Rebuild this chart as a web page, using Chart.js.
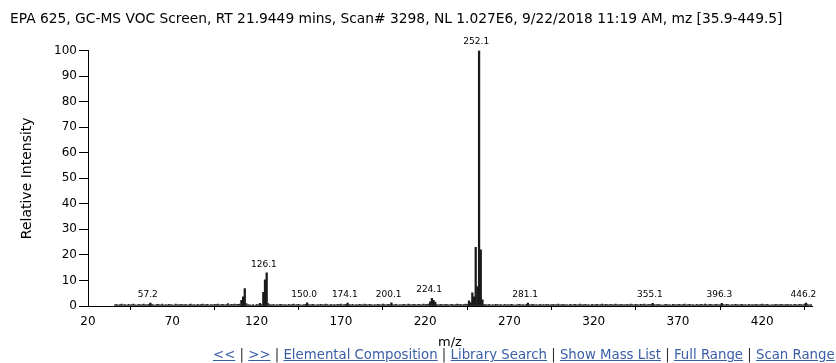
<!DOCTYPE html>
<html><head><meta charset="utf-8">
<script src="https://cdn.jsdelivr.net/npm/chart.js@4.4.1/dist/chart.umd.min.js"></script>
<style>
html,body{margin:0;padding:0;background:#fff;}
#wrap{position:relative;width:836px;height:363px;overflow:hidden;}
#links{position:absolute;left:213px;top:347px;font:13.3px "DejaVu Sans";color:#333;white-space:nowrap;line-height:16px;}
#links a{color:#3a5ea8;text-decoration:underline;}
</style></head><body>
<div id="wrap"><canvas id="c" width="836" height="363"></canvas>
<div id="links"><a>&lt;&lt;</a> | <a>&gt;&gt;</a> | <a>Elemental Composition</a> | <a>Library Search</a> | <a>Show Mass List</a> | <a>Full Range</a> | <a>Scan Range</a></div></div>
<script>
const chartTitle = 'EPA 625, GC-MS VOC Screen, RT 21.9449 mins, Scan# 3298, NL 1.027E6, 9/22/2018 11:19 AM, mz [35.9-449.5]';
const xTicks = [20, 70, 120, 170, 220, 270, 320, 370, 420];
// significant peaks (m/z, relative intensity %)
const peakMz = [57, 111, 112, 113, 122, 124, 125, 126, 150, 174, 200, 223, 224, 225, 226, 246, 247, 248, 249, 250, 251, 252, 253, 254, 281, 355, 396, 446];
const peakIntensity = [1.1, 2.2, 3.6, 6.8, 1.0, 5.4, 10.2, 13.0, 1.2, 1.1, 1.2, 1.6, 3.0, 2.2, 1.5, 2.0, 1.3, 5.2, 3.6, 23.0, 7.6, 100, 22.0, 2.4, 1.1, 1.0, 1.0, 1.1];
// baseline noise, one value per integer m/z starting at 36
const baselineStartMz = 36;
const baselineIntensity = [
0.5,0.7,0.4,0.6,0.8,0.5,0.6,0.4,0.7,0.5,0.6,0.8,0.5,0.4,0.7,0.6,0.5,0.8,0.6,0.5,
0.7,0.6,0.6,0.5,0.4,0.7,0.6,0.5,0.8,0.4,0.6,0.5,0.7,0.6,0.5,0.4,0.8,0.6,0.5,0.7,
0.6,0.5,0.7,0.4,0.6,0.8,0.5,0.6,0.4,0.7,0.5,0.6,0.8,0.5,0.6,0.7,0.4,0.6,0.5,0.7,
0.6,0.8,0.5,0.6,0.7,0.5,0.6,0.9,0.5,0.7,0.6,0.8,0.6,0.7,0.8,0.6,0.5,0.6,0.9,0.6,
0.5,0.4,0.6,0.3,0.7,0.5,0.6,0.6,0.7,0.5,0.6,0.9,0.6,0.5,0.7,0.4,0.6,0.5,0.7,0.6,
0.5,0.6,0.4,0.7,0.5,0.6,0.8,0.5,0.6,0.7,0.5,0.4,0.6,0.7,0.6,0.6,0.5,0.7,0.6,0.4,
0.6,0.5,0.7,0.6,0.5,0.8,0.6,0.4,0.7,0.5,0.6,0.5,0.7,0.6,0.8,0.5,0.6,0.7,0.6,0.6,
0.5,0.7,0.4,0.6,0.5,0.7,0.6,0.5,0.8,0.6,0.5,0.7,0.6,0.4,0.6,0.5,0.7,0.6,0.5,0.8,
0.6,0.5,0.7,0.6,0.6,0.5,0.6,0.7,0.4,0.6,0.5,0.7,0.6,0.5,0.8,0.6,0.5,0.7,0.6,0.5,
0.7,0.6,0.5,0.8,0.6,0.7,0.8,0.6,0.6,0.6,0.6,0.6,0.5,0.7,0.6,0.5,0.7,0.6,0.5,0.6,
0.7,0.5,0.6,0.8,0.6,0.7,0.5,0.6,0.8,0.7,0.6,0.6,0.6,0.6,0.6,0.6,0.6,0.6,0.6,0.6,
0.6,0.5,0.7,0.4,0.6,0.5,0.7,0.6,0.5,0.6,0.4,0.7,0.5,0.6,0.5,0.7,0.6,0.4,0.5,0.6,
0.7,0.5,0.6,0.4,0.7,0.6,0.5,0.6,0.7,0.5,0.6,0.4,0.7,0.5,0.6,0.5,0.7,0.6,0.5,0.6,
0.7,0.5,0.6,0.8,0.5,0.6,0.7,0.5,0.6,0.4,0.7,0.5,0.6,0.7,0.5,0.6,0.8,0.5,0.6,0.7,
0.5,0.6,0.4,0.7,0.5,0.6,0.7,0.5,0.6,0.8,0.5,0.7,0.6,0.5,0.7,0.6,0.5,0.8,0.6,0.5,
0.7,0.6,0.5,0.6,0.7,0.5,0.8,0.6,0.5,0.7,0.6,0.5,0.7,0.6,0.8,0.5,0.6,0.7,0.6,0.6,
0.6,0.5,0.7,0.6,0.5,0.4,0.6,0.7,0.5,0.6,0.4,0.7,0.6,0.5,0.6,0.7,0.5,0.6,0.8,0.5,
0.6,0.7,0.5,0.6,0.4,0.7,0.5,0.6,0.7,0.5,0.8,0.6,0.5,0.7,0.6,0.5,0.6,0.7,0.5,0.6,
0.6,0.6,0.5,0.7,0.6,0.4,0.6,0.5,0.7,0.6,0.5,0.6,0.7,0.5,0.6,0.4,0.7,0.5,0.6,0.5,
0.7,0.6,0.5,0.6,0.8,0.5,0.6,0.7,0.5,0.4,0.6,0.5,0.7,0.6,0.5,0.7,0.6,0.5,0.6,0.7,
0.5,0.6,0.4,0.7,0.6,0.5,0.7,0.6,0.5,0.8,0.6,0.6,0.5,0.6
];
const labelMz = [57.2, 126.1, 150.0, 174.1, 200.1, 224.1, 252.1, 281.1, 355.1, 396.3, 446.2];

const baselinePoints = baselineIntensity.map((v, i) => ({x: baselineStartMz + i, y: v}));
const peakPoints = peakMz.map((m, i) => ({x: m, y: peakIntensity[i]}));

function intensityAt(mz) {
  const k = peakMz.indexOf(mz);
  if (k >= 0) return peakIntensity[k];
  const j = mz - baselineStartMz;
  return (j >= 0 && j < baselineIntensity.length) ? baselineIntensity[j] : 0;
}

const FONT = 'DejaVu Sans';
const peakLabels = {
  id: 'peakLabels',
  afterDatasetsDraw(chart) {
    const {ctx, scales: {x, y}} = chart;
    ctx.save();
    ctx.font = '9px "' + FONT + '"';
    ctx.fillStyle = '#000';
    ctx.textAlign = 'center';
    ctx.textBaseline = 'bottom';
    labelMz.forEach(m => {
      const h = intensityAt(Math.round(m));
      ctx.fillText(m.toFixed(1), x.getPixelForValue(m) - 3, y.getPixelForValue(h) - 4);
    });
    ctx.restore();
  }
};

new Chart(document.getElementById('c'), {
  type: 'bar',
  data: {
    datasets: [
      {data: baselinePoints, backgroundColor: '#222', barThickness: 1.2, grouped: false},
      {data: peakPoints, backgroundColor: '#1a1a1a', barThickness: 1.6, grouped: false}
    ]
  },
  options: {
    responsive: false,
    animation: false,
    layout: {padding: {left: 10, right: 24, top: 0, bottom: 13}},
    plugins: {
      legend: {display: false},
      tooltip: {enabled: false},
      title: {
        display: true, text: chartTitle, align: 'start', color: '#000',
        font: {family: FONT, size: 13.8, weight: 'normal'},
        padding: {top: 11, bottom: 23}
      }
    },
    scales: {
      x: {
        type: 'linear', min: 20, max: 449.5, offset: false,
        afterBuildTicks: s => { s.ticks = xTicks.map(v => ({value: v})); },
        ticks: {color: '#000', font: {family: FONT, size: 12}, padding: 5, autoSkip: false, maxRotation: 0},
        grid: {drawOnChartArea: false, tickLength: 4, tickColor: '#000'},
        border: {color: '#000'},
        title: {display: true, text: 'm/z', color: '#000', font: {family: FONT, size: 13}, padding: 0},
        afterFit: s => { s.height = 44; }
      },
      y: {
        min: 0, max: 100,
        ticks: {stepSize: 10, color: '#000', font: {family: FONT, size: 12}, padding: 2},
        grid: {drawOnChartArea: false, tickLength: 9, tickColor: '#000'},
        border: {color: '#000'},
        title: {display: true, text: 'Relative Intensity', color: '#000', font: {family: FONT, size: 14}, padding: {top: 9, bottom: 0}},
        afterFit: s => { s.width = 78; }
      }
    }
  },
  plugins: [peakLabels]
});
</script>
</body></html>
